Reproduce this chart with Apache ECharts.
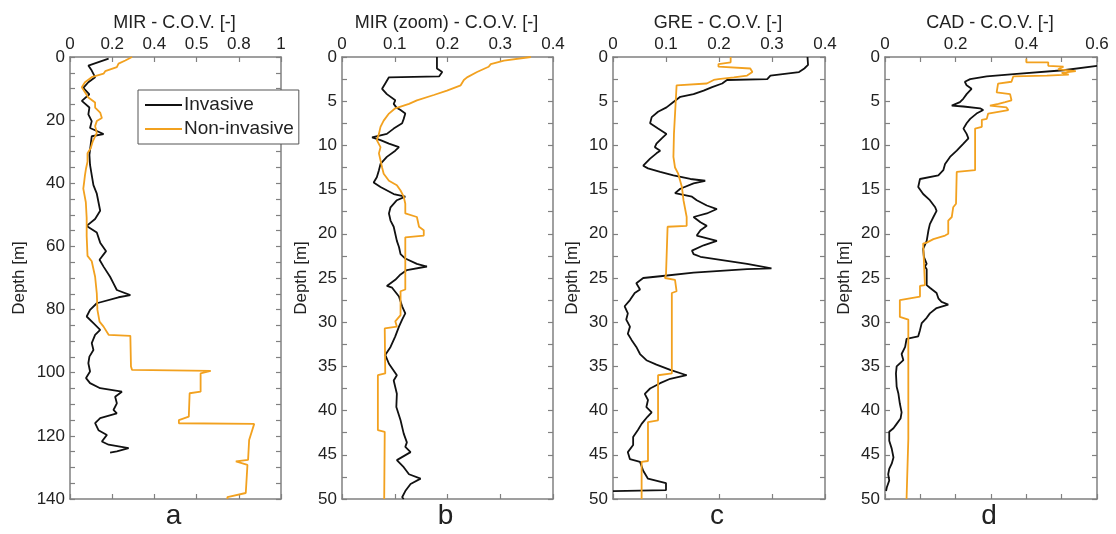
<!DOCTYPE html>
<html><head><meta charset="utf-8">
<script src="https://cdn.jsdelivr.net/npm/echarts@6/dist/echarts.min.js"></script>
<style>html,body{margin:0;padding:0;background:#fff}#c{width:1116px;height:534px}</style>
</head><body><div id="c"></div>
<script>
// ---------- DATA ----------
const seriesNames = ['Invasive', 'Non-invasive'];
const panelTitles = ['MIR - C.O.V. [-]', 'MIR (zoom) - C.O.V. [-]', 'GRE - C.O.V. [-]', 'CAD - C.O.V. [-]'];
const panelLetters = ['a', 'b', 'c', 'd'];
const yAxisName = 'Depth [m]';
const aXTickLabels = ['0', '0.2', '0.4', '0.5', '0.8', '1'];

// Panel a: MIR
const aInvDepth = [0.5,2.7,4.3,6.4,8.0,9.8,11.8,13.9,16.0,18.2,20.3,22.5,24.4,25.1,27.8,31.0,34.2,37.4,40.6,43.3,46.0,48.7,51.3,53.5,55.6,58.8,61.5,64.2,66.4,69.6,71.7,73.8,75.4,76.1,78.0,80.1,82.2,84.3,86.4,88.0,90.6,92.8,94.9,97.0,99.6,101.7,103.3,104.9,106.0,107.6,109.7,111.8,112.9,114.4,116.0,118.2,119.7,121.8,122.8,123.9,124.9,125.3];
const aInvCov = [0.183,0.087,0.103,0.119,0.087,0.063,0.092,0.056,0.092,0.087,0.103,0.095,0.159,0.103,0.098,0.092,0.095,0.103,0.111,0.127,0.135,0.143,0.119,0.079,0.127,0.143,0.171,0.140,0.159,0.190,0.206,0.222,0.286,0.230,0.127,0.095,0.079,0.111,0.143,0.119,0.103,0.111,0.092,0.087,0.095,0.076,0.095,0.143,0.246,0.214,0.222,0.206,0.222,0.143,0.119,0.135,0.175,0.151,0.183,0.278,0.222,0.190];
const aNonDepth = [0,1.1,2.1,3.2,4.5,5.3,6.4,8.0,9.6,11.2,12.8,14.4,16.0,17.6,19.3,20.3,21.9,24.0,26.7,28.9,30.5,33.2,35.3,37.4,39.6,41.7,46.0,51.0,56.7,63.0,64.7,69.6,74.9,80.1,83.8,85.4,88.0,88.3,98.0,99.1,99.4,100.2,106.0,106.5,113.9,115.0,116.0,116.2,121.3,127.6,128.1,129.2,138.1,139.4,140];
const aNonCov = [0.294,0.262,0.230,0.222,0.167,0.159,0.103,0.071,0.056,0.071,0.087,0.119,0.119,0.143,0.151,0.127,0.119,0.127,0.108,0.098,0.083,0.083,0.076,0.071,0.067,0.063,0.075,0.079,0.079,0.083,0.103,0.119,0.127,0.130,0.140,0.159,0.183,0.286,0.289,0.294,0.667,0.619,0.619,0.567,0.563,0.516,0.516,0.873,0.849,0.844,0.786,0.841,0.833,0.746,0.746];

// Panel b: MIR (zoom)
const bInvDepth = [0,1.3,1.7,2.2,2.3,3.0,3.6,4.2,4.9,5.3,5.7,6.0,6.4,7.0,7.5,8.1,8.7,9.1,9.4,9.8,10.2,10.6,11.3,12.1,12.8,13.6,14.2,14.7,15.5,15.8,16.2,17.0,17.7,18.5,19.2,20.0,20.8,21.5,22.3,22.8,23.4,23.7,24.1,24.6,25.2,25.9,26.1,27.1,28.2,29.0,29.7,30.5,31.6,32.8,33.7,34.7,36.0,36.6,38.1,39.6,41.1,42.6,43.6,44.1,44.7,45.6,46.4,47.2,47.7,48.3,49.1,49.8,50];
const bInvCov = [0.180,0.180,0.190,0.184,0.089,0.082,0.076,0.085,0.101,0.098,0.103,0.111,0.120,0.117,0.114,0.098,0.085,0.057,0.073,0.089,0.108,0.101,0.085,0.073,0.070,0.066,0.060,0.073,0.098,0.120,0.104,0.092,0.089,0.092,0.098,0.101,0.104,0.108,0.111,0.120,0.142,0.161,0.123,0.111,0.101,0.085,0.095,0.108,0.114,0.120,0.114,0.108,0.101,0.092,0.082,0.089,0.104,0.098,0.104,0.103,0.111,0.117,0.123,0.120,0.130,0.104,0.117,0.127,0.149,0.130,0.120,0.114,0.117];
const bNonDepth = [0,0.4,0.8,1.1,1.7,2.3,2.6,3.2,3.8,4.3,4.9,5.3,5.8,6.4,7.2,7.9,8.7,9.4,10.2,10.9,11.7,12.5,13.2,14.0,14.5,15.1,15.8,16.6,17.7,18.1,19.2,19.6,20.2,20.4,26.3,26.5,29.2,29.9,30.5,30.7,35.8,36.0,42.2,42.4,50];
const bNonCov = [0.358,0.307,0.282,0.278,0.256,0.237,0.231,0.225,0.199,0.174,0.142,0.127,0.101,0.089,0.079,0.073,0.070,0.066,0.073,0.070,0.073,0.076,0.079,0.089,0.104,0.111,0.117,0.120,0.120,0.142,0.146,0.155,0.155,0.120,0.120,0.111,0.111,0.101,0.104,0.081,0.082,0.068,0.068,0.081,0.080];

// Panel c: GRE
const cInvDepth = [0,0.9,1.3,1.7,2.1,2.5,2.6,3.0,3.4,3.8,4.2,4.5,5.1,5.7,6.2,6.8,7.5,8.1,8.7,9.2,9.8,10.2,10.6,10.9,11.5,12.3,12.6,13.0,13.4,13.8,14.0,14.3,14.9,15.4,15.8,16.2,16.8,17.2,17.7,18.1,18.7,19.1,19.6,20.2,20.8,21.3,21.9,22.3,22.6,23.4,23.9,24.0,24.4,24.8,25.0,25.6,26.3,26.7,27.5,28.2,29.0,29.7,30.5,31.3,32.0,32.8,33.6,34.3,34.8,35.4,36.0,36.4,36.9,37.5,38.1,38.8,39.6,40.2,40.7,41.5,42.2,43.0,43.9,44.7,45.5,45.8,46.8,47.7,48.2,49.0,49.1];
const cInvCov = [0.367,0.368,0.361,0.351,0.297,0.291,0.215,0.206,0.187,0.171,0.152,0.127,0.114,0.101,0.085,0.073,0.070,0.085,0.101,0.092,0.082,0.079,0.089,0.082,0.070,0.057,0.066,0.089,0.114,0.146,0.174,0.152,0.127,0.117,0.149,0.158,0.177,0.196,0.177,0.152,0.165,0.177,0.165,0.158,0.196,0.171,0.149,0.152,0.165,0.253,0.299,0.253,0.152,0.089,0.057,0.044,0.051,0.041,0.032,0.022,0.028,0.025,0.032,0.028,0.035,0.044,0.051,0.063,0.082,0.108,0.139,0.108,0.089,0.070,0.060,0.066,0.063,0.073,0.065,0.054,0.047,0.038,0.038,0.028,0.032,0.051,0.057,0.066,0.100,0.100,0.0];
const cNonDepth = [0,0.6,0.8,1.1,1.3,1.7,2.1,2.3,2.5,2.6,3.0,3.2,3.4,8.7,11.3,12.5,13.2,14.7,16.2,18.1,19.1,19.2,24.6,25.0,25.2,26.5,26.7,35.8,36.0,41.1,41.3,45.7,45.8,50];
const cNonCov = [0.222,0.222,0.199,0.199,0.259,0.263,0.253,0.228,0.199,0.190,0.177,0.120,0.118,0.115,0.114,0.117,0.123,0.130,0.133,0.139,0.139,0.103,0.100,0.098,0.117,0.120,0.111,0.111,0.085,0.085,0.066,0.066,0.054,0.054];

// Panel d: CAD
const dInvDepth = [1.0,1.5,1.9,2.2,2.5,2.8,3.2,3.6,4.2,4.7,5.1,5.5,5.6,5.8,6.0,6.4,7.0,7.5,8.1,8.7,9.2,9.8,10.6,11.3,12.1,12.8,13.4,13.8,14.7,15.5,16.2,17.0,17.4,18.1,18.9,19.6,20.8,21.7,22.6,23.4,23.7,24.0,25.8,26.1,26.7,27.3,27.7,28.0,28.4,29.0,29.5,30.1,30.9,31.6,31.9,32.8,33.6,34.3,35.0,35.8,37.3,38.1,39.2,40.2,40.9,41.5,42.0,42.4,43.4,44.3,45.3,46.0,46.6,47.2,47.9,48.7,49.1];
const dInvCov = [0.600,0.505,0.373,0.288,0.241,0.226,0.231,0.245,0.231,0.222,0.212,0.189,0.222,0.269,0.278,0.259,0.241,0.231,0.222,0.231,0.236,0.222,0.203,0.184,0.170,0.165,0.151,0.099,0.094,0.108,0.127,0.142,0.146,0.137,0.127,0.123,0.118,0.108,0.110,0.118,0.113,0.118,0.118,0.127,0.146,0.151,0.160,0.179,0.146,0.127,0.118,0.104,0.099,0.094,0.061,0.057,0.047,0.052,0.033,0.031,0.033,0.038,0.042,0.047,0.044,0.033,0.024,0.012,0.012,0.019,0.024,0.019,0.012,0.009,0.012,0.005,0.003];
const dNonDepth = [0.2,0.6,0.6,1.0,1.1,1.4,1.6,1.8,2.0,2.1,2.2,2.8,3.0,4.0,4.2,4.9,5.1,5.3,5.5,5.7,6.0,6.4,7.0,7.1,7.9,8.1,12.8,13.0,16.6,17.0,18.1,18.5,20.0,20.2,20.6,21.0,21.1,25.8,25.9,27.1,27.5,29.4,29.7,43.2,43.4,50];
const dNonCov = [0.400,0.400,0.462,0.462,0.505,0.490,0.540,0.500,0.520,0.458,0.363,0.358,0.320,0.316,0.354,0.358,0.340,0.321,0.297,0.344,0.349,0.292,0.288,0.274,0.274,0.255,0.255,0.203,0.201,0.193,0.189,0.179,0.179,0.170,0.137,0.118,0.108,0.113,0.099,0.099,0.042,0.042,0.066,0.066,0.061,0.061];

// ---------- LAYOUT / STYLE ----------
const FONT = '"Liberation Sans", Arial, Helvetica, sans-serif';
const AXIS_COLOR = '#808080';
const TEXT_COLOR = '#222';
const COLORS = ['#111111', '#f2a11f'];

const panels = [
  {left: 70,  width: 211, xMax: 1,   xInt: 0.2, xMinor: 0, xBottomInt: 0.2, yMax: 140, yInt: 20, yMinor: 4, nameGap: 42,
   labels: v => aXTickLabels[Math.round(v / 0.2)], inv: [aInvDepth, aInvCov], non: [aNonDepth, aNonCov]},
  {left: 342, width: 211, xMax: 0.4, xInt: 0.1, xMinor: 0, xBottomInt: 0.1, yMax: 50, yInt: 5, yMinor: 2, nameGap: 32,
   labels: null, inv: [bInvDepth, bInvCov], non: [bNonDepth, bNonCov]},
  {left: 613, width: 212, xMax: 0.4, xInt: 0.1, xMinor: 0, xBottomInt: 0.1, yMax: 50, yInt: 5, yMinor: 2, nameGap: 32,
   labels: null, inv: [cInvDepth, cInvCov], non: [cNonDepth, cNonCov]},
  {left: 885, width: 212, xMax: 0.6, xInt: 0.2, xMinor: 2, xBottomInt: 0.1, yMax: 50, yInt: 5, yMinor: 2, nameGap: 32,
   labels: null, inv: [dInvDepth, dInvCov], non: [dNonDepth, dNonCov]}
];

function fmtNum(v) { return String(Math.round(v * 1000) / 1000); }

const grid = [], xAxis = [], yAxis = [], series = [], graphic = [];
const tickCommon = {show: true, inside: true, length: 5, lineStyle: {color: AXIS_COLOR, width: 1.2}};
const lineCommon = {show: true, onZero: false, lineStyle: {color: AXIS_COLOR, width: 1.5}};

panels.forEach((p, i) => {
  grid.push({left: p.left, top: 57, width: p.width, height: 442});
  xAxis.push({
    type: 'value', gridIndex: i, position: 'top', min: 0, max: p.xMax, interval: p.xInt,
    axisLine: lineCommon, axisTick: tickCommon, splitLine: {show: false},
    minorTick: {show: p.xMinor > 0, splitNumber: p.xMinor || 5, length: 5, lineStyle: {color: AXIS_COLOR, width: 1.2}},
    axisLabel: {margin: 4, fontSize: 17, color: TEXT_COLOR, fontFamily: FONT,
      formatter: p.labels ? p.labels : fmtNum}
  });
  xAxis.push({
    type: 'value', gridIndex: i, position: 'bottom', min: 0, max: p.xMax, interval: p.xBottomInt,
    axisLine: lineCommon, axisTick: tickCommon, splitLine: {show: false}, axisLabel: {show: false}
  });
  yAxis.push({
    type: 'value', gridIndex: i, position: 'left', inverse: true, min: 0, max: p.yMax, interval: p.yInt,
    name: yAxisName, nameLocation: 'middle', nameGap: p.nameGap, nameRotate: 90,
    nameTextStyle: {fontSize: 17, color: TEXT_COLOR, fontFamily: FONT},
    axisLine: lineCommon, axisTick: tickCommon, splitLine: {show: false},
    minorTick: {show: true, splitNumber: p.yMinor, length: 5, lineStyle: {color: AXIS_COLOR, width: 1.2}},
    axisLabel: {margin: 5, fontSize: 17, color: TEXT_COLOR, fontFamily: FONT, formatter: fmtNum}
  });
  yAxis.push({
    type: 'value', gridIndex: i, position: 'right', inverse: true, min: 0, max: p.yMax, interval: p.yInt / p.yMinor,
    axisLine: lineCommon, axisTick: tickCommon, splitLine: {show: false}, axisLabel: {show: false}
  });
  const mk = (arr, name, color) => ({
    type: 'line', name: name, xAxisIndex: i * 2, yAxisIndex: i * 2,
    data: arr[0].map((d, k) => [arr[1][k], d]),
    showSymbol: false, symbol: 'none', animation: false, clip: true,
    lineStyle: {color: color, width: 1.8}, itemStyle: {color: color}
  });
  series.push(mk(p.inv, seriesNames[0], COLORS[0]));
  series.push(mk(p.non, seriesNames[1], COLORS[1]));
  const cx = p.left + p.width / 2;
  graphic.push({type: 'text', x: cx - 1, y: 23, style: {text: panelTitles[i], fontSize: 18, fill: TEXT_COLOR,
    fontFamily: FONT, textAlign: 'center', textVerticalAlign: 'middle'}});
  graphic.push({type: 'text', x: cx - 2, y: 516, style: {text: panelLetters[i], fontSize: 28, fill: TEXT_COLOR,
    fontFamily: FONT, textAlign: 'center', textVerticalAlign: 'middle'}});
});

const chart = echarts.init(document.getElementById('c'), null, {renderer: 'canvas'});
chart.setOption({
  backgroundColor: '#fff',
  animation: false,
  grid, xAxis, yAxis, series, graphic,
  legend: {
    data: seriesNames, orient: 'vertical', left: 138, top: 90,
    padding: [5, 5, 5, 7], itemGap: 4, itemWidth: 37, itemHeight: 2, icon: 'rect',
    borderColor: '#555', borderWidth: 1, backgroundColor: '#fff', borderRadius: 0,
    textStyle: {fontSize: 19, color: TEXT_COLOR, fontFamily: FONT, padding: [0, 0, 0, -3], lineHeight: 20},
    z: 10
  }
});
</script>
</body></html>
